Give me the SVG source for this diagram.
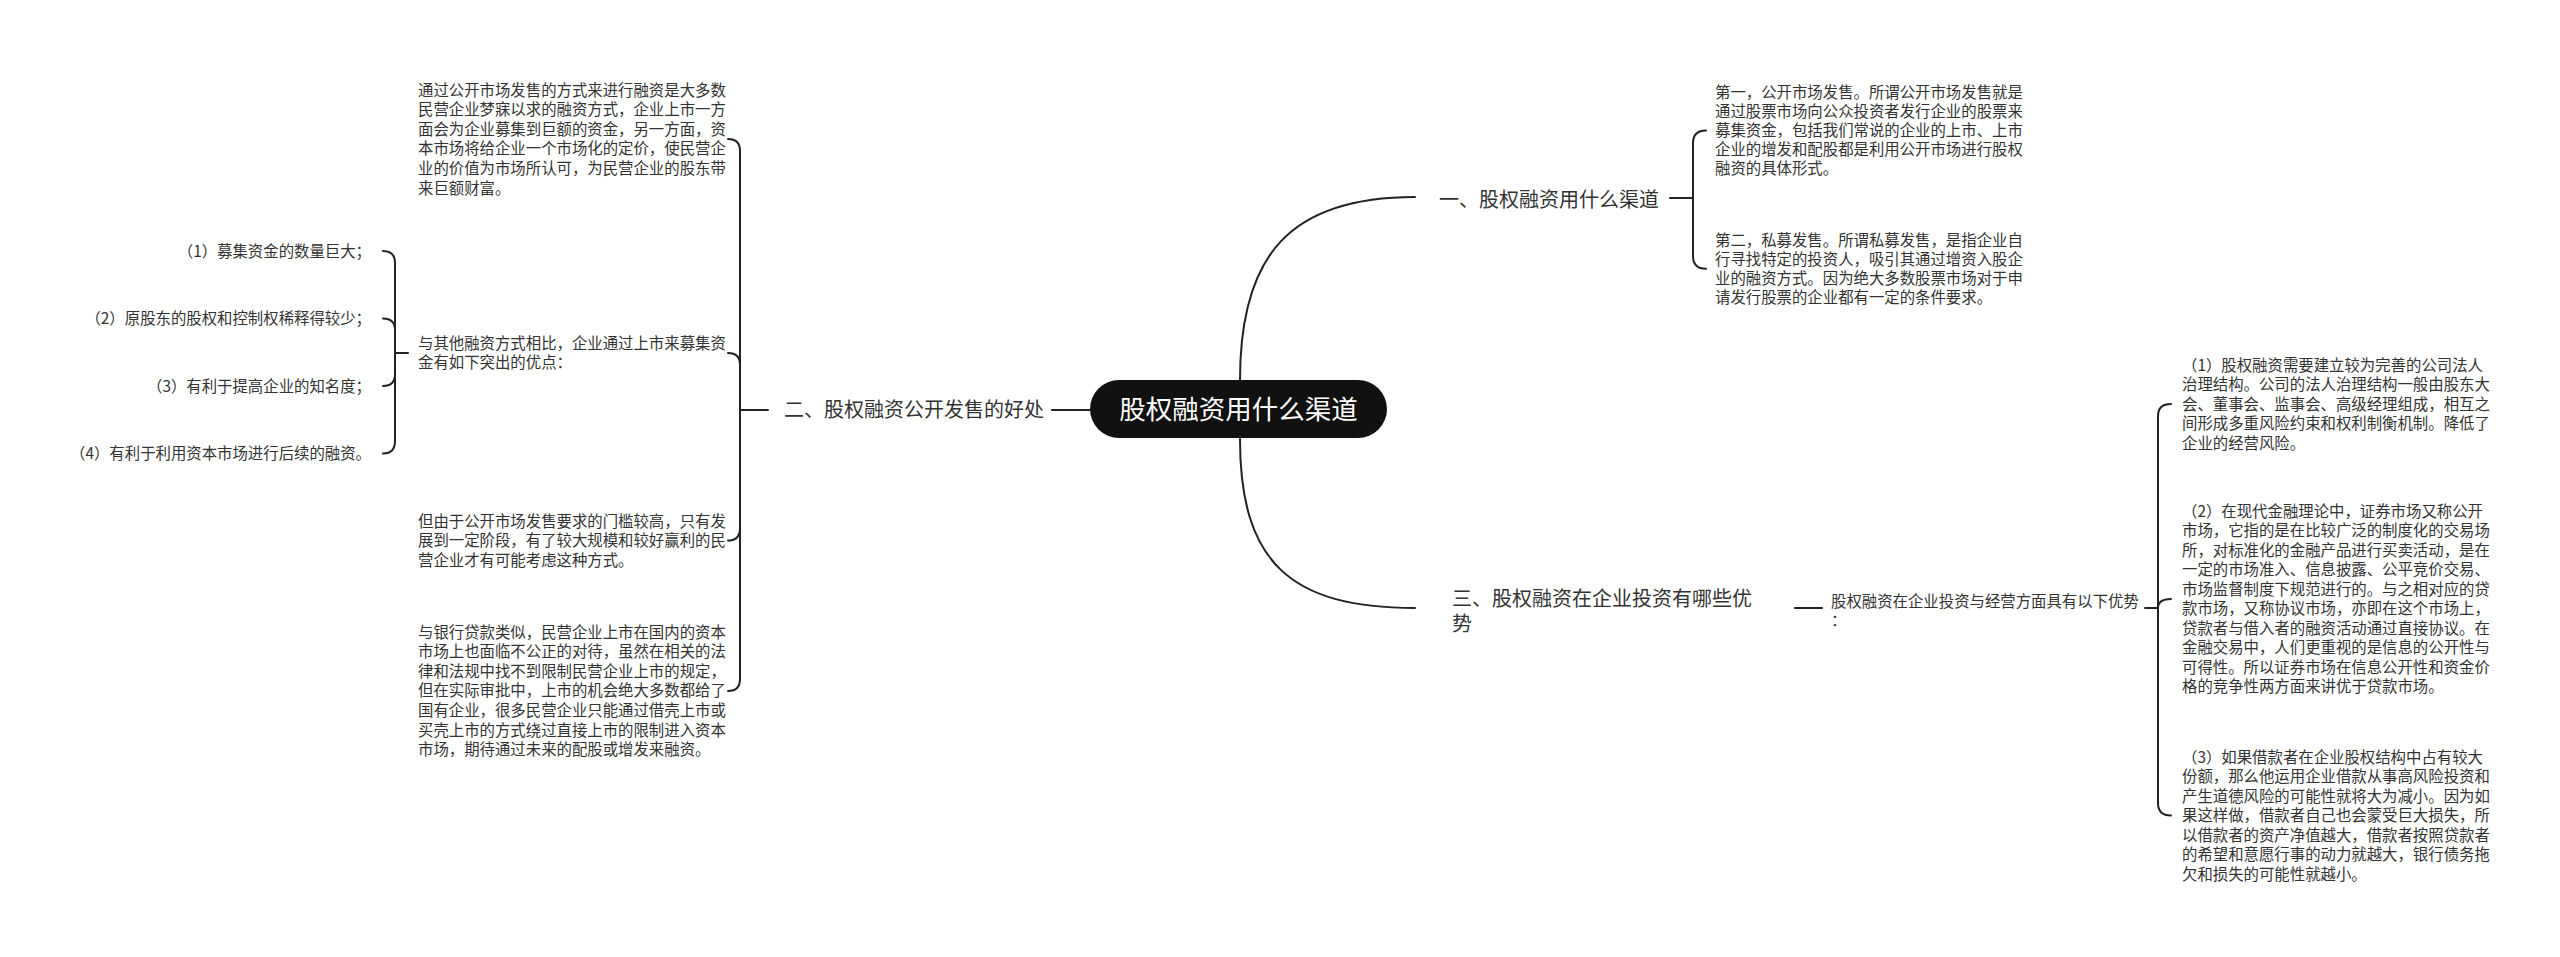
<svg xmlns="http://www.w3.org/2000/svg" width="2560" height="957" viewBox="0 0 2560 957">
<style>
.t{font-family:"Noto Sans CJK SC","Microsoft YaHei",sans-serif;font-size:15.4px;fill:#333}
.m{font-family:"Noto Sans CJK SC","Microsoft YaHei",sans-serif;font-size:20px;fill:#333}
.r{font-family:"Noto Sans CJK SC","Microsoft YaHei",sans-serif;font-size:26.5px;fill:#fff}
.c{fill:none;stroke:#222;stroke-width:2;stroke-linecap:round}
</style>
<rect width="2560" height="957" fill="#fff"/>
<g id="connectors">
<path class="c" d="M1240,380 C1240,255 1290,197 1415,197"/>
<path class="c" d="M1240,439 C1240,562 1290,608 1415,608"/>
<path class="c" d="M1090,410 L1052,410"/>
<path class="c" d="M768,410 L740,410"/>
<path class="c" d="M740,410 L740,151 Q740,139 728,139"/>
<path class="c" d="M740,410 L740,365 Q740,353 728,353"/>
<path class="c" d="M740,410 L740,528 Q740,540.6 728,540.6"/>
<path class="c" d="M740,410 L740,679 Q740,691 728,691"/>
<path class="c" d="M408,353 L395,353"/>
<path class="c" d="M395,353 L395,263 Q395,251 383,251"/>
<path class="c" d="M395,353 L395,330 Q395,318.5 383,318.5"/>
<path class="c" d="M395,353 L395,374 Q395,386 383,386"/>
<path class="c" d="M395,353 L395,441 Q395,453.5 383,453.5"/>
<path class="c" d="M1670,198 L1693,198"/>
<path class="c" d="M1693,198 L1693,143 Q1693,130.4 1706,130.4"/>
<path class="c" d="M1693,198 L1693,256 Q1693,268.8 1706,268.8"/>
<path class="c" d="M1795,608 L1822,608"/>
<path class="c" d="M2145,608 L2158,608"/>
<path class="c" d="M2158,608 L2158,416 Q2158,404 2171,404"/>
<path class="c" d="M2158,608 Q2158,599 2171,599"/>
<path class="c" d="M2158,608 L2158,803 Q2158,815.5 2171,815.5"/>
</g>
<g id="root">
<rect x="1090" y="380" width="297" height="58" rx="29" fill="#111"/>
<text class="r" x="1238.5" y="419" text-anchor="middle">股权融资用什么渠道</text>
</g>
<g id="topic1">
<text class="m" x="1439" y="207">一、股权融资用什么渠道</text>
</g>
<g id="topic2">
<text class="m" x="784" y="417">二、股权融资公开发售的好处</text>
</g>
<g id="topic3">
<text class="m" x="1452" y="605.5">三、股权融资在企业投资有哪些优<tspan x="1452" dy="25">势</tspan></text>
</g>
<g id="t2a">
<text class="t" x="418" y="95.5">通过公开市场发售的方式来进行融资是大多数<tspan x="418" dy="19.6">民营企业梦寐以求的融资方式，企业上市一方</tspan><tspan x="418" dy="19.6">面会为企业募集到巨额的资金，另一方面，资</tspan><tspan x="418" dy="19.6">本市场将给企业一个市场化的定价，使民营企</tspan><tspan x="418" dy="19.6">业的价值为市场所认可，为民营企业的股东带</tspan><tspan x="418" dy="19.6">来巨额财富。</tspan></text>
</g>
<g id="t2b">
<text class="t" x="418" y="348.5">与其他融资方式相比，企业通过上市来募集资<tspan x="418" dy="19.6">金有如下突出的优点：</tspan></text>
</g>
<g id="t2b1"><text class="t" x="371" y="256.5" text-anchor="end">（1）募集资金的数量巨大；</text></g>
<g id="t2b2"><text class="t" x="371" y="324" text-anchor="end">（2）原股东的股权和控制权稀释得较少；</text></g>
<g id="t2b3"><text class="t" x="371" y="391.5" text-anchor="end">（3）有利于提高企业的知名度；</text></g>
<g id="t2b4"><text class="t" x="371" y="459" text-anchor="end">（4）有利于利用资本市场进行后续的融资。</text></g>
<g id="t2c">
<text class="t" x="418" y="526.5">但由于公开市场发售要求的门槛较高，只有发<tspan x="418" dy="19.6">展到一定阶段，有了较大规模和较好赢利的民</tspan><tspan x="418" dy="19.6">营企业才有可能考虑这种方式。</tspan></text>
</g>
<g id="t2d">
<text class="t" x="418" y="637.5">与银行贷款类似，民营企业上市在国内的资本<tspan x="418" dy="19.6">市场上也面临不公正的对待，虽然在相关的法</tspan><tspan x="418" dy="19.6">律和法规中找不到限制民营企业上市的规定，</tspan><tspan x="418" dy="19.6">但在实际审批中，上市的机会绝大多数都给了</tspan><tspan x="418" dy="19.6">国有企业，很多民营企业只能通过借壳上市或</tspan><tspan x="418" dy="19.6">买壳上市的方式绕过直接上市的限制进入资本</tspan><tspan x="418" dy="19.6">市场，期待通过未来的配股或增发来融资。</tspan></text>
</g>
<g id="t1a">
<text class="t" x="1715" y="97.5">第一，公开市场发售。所谓公开市场发售就是<tspan x="1715" dy="19.2">通过股票市场向公众投资者发行企业的股票来</tspan><tspan x="1715" dy="19.2">募集资金，包括我们常说的企业的上市、上市</tspan><tspan x="1715" dy="19.2">企业的增发和配股都是利用公开市场进行股权</tspan><tspan x="1715" dy="19.2">融资的具体形式。</tspan></text>
</g>
<g id="t1b">
<text class="t" x="1715" y="245.5">第二，私募发售。所谓私募发售，是指企业自<tspan x="1715" dy="19.2">行寻找特定的投资人，吸引其通过增资入股企</tspan><tspan x="1715" dy="19.2">业的融资方式。因为绝大多数股票市场对于申</tspan><tspan x="1715" dy="19.2">请发行股票的企业都有一定的条件要求。</tspan></text>
</g>
<g id="t3a">
<text class="t" x="1831" y="606.5">股权融资在企业投资与经营方面具有以下优势<tspan x="1831" dy="19.6">：</tspan></text>
</g>
<g id="t3a1">
<text class="t" x="2182" y="370.5">（1）股权融资需要建立较为完善的公司法人<tspan x="2182" dy="19.5">治理结构。公司的法人治理结构一般由股东大</tspan><tspan x="2182" dy="19.5">会、董事会、监事会、高级经理组成，相互之</tspan><tspan x="2182" dy="19.5">间形成多重风险约束和权利制衡机制。降低了</tspan><tspan x="2182" dy="19.5">企业的经营风险。</tspan></text>
</g>
<g id="t3a2">
<text class="t" x="2182" y="516.5">（2）在现代金融理论中，证券市场又称公开<tspan x="2182" dy="19.55">市场，它指的是在比较广泛的制度化的交易场</tspan><tspan x="2182" dy="19.55">所，对标准化的金融产品进行买卖活动，是在</tspan><tspan x="2182" dy="19.55">一定的市场准入、信息披露、公平竞价交易、</tspan><tspan x="2182" dy="19.55">市场监督制度下规范进行的。与之相对应的贷</tspan><tspan x="2182" dy="19.55">款市场，又称协议市场，亦即在这个市场上，</tspan><tspan x="2182" dy="19.55">贷款者与借入者的融资活动通过直接协议。在</tspan><tspan x="2182" dy="19.55">金融交易中，人们更重视的是信息的公开性与</tspan><tspan x="2182" dy="19.55">可得性。所以证券市场在信息公开性和资金价</tspan><tspan x="2182" dy="19.55">格的竞争性两方面来讲优于贷款市场。</tspan></text>
</g>
<g id="t3a3">
<text class="t" x="2182" y="762.5">（3）如果借款者在企业股权结构中占有较大<tspan x="2182" dy="19.5">份额，那么他运用企业借款从事高风险投资和</tspan><tspan x="2182" dy="19.5">产生道德风险的可能性就将大为减小。因为如</tspan><tspan x="2182" dy="19.5">果这样做，借款者自己也会蒙受巨大损失，所</tspan><tspan x="2182" dy="19.5">以借款者的资产净值越大，借款者按照贷款者</tspan><tspan x="2182" dy="19.5">的希望和意愿行事的动力就越大，银行债务拖</tspan><tspan x="2182" dy="19.5">欠和损失的可能性就越小。</tspan></text>
</g>
</svg>
